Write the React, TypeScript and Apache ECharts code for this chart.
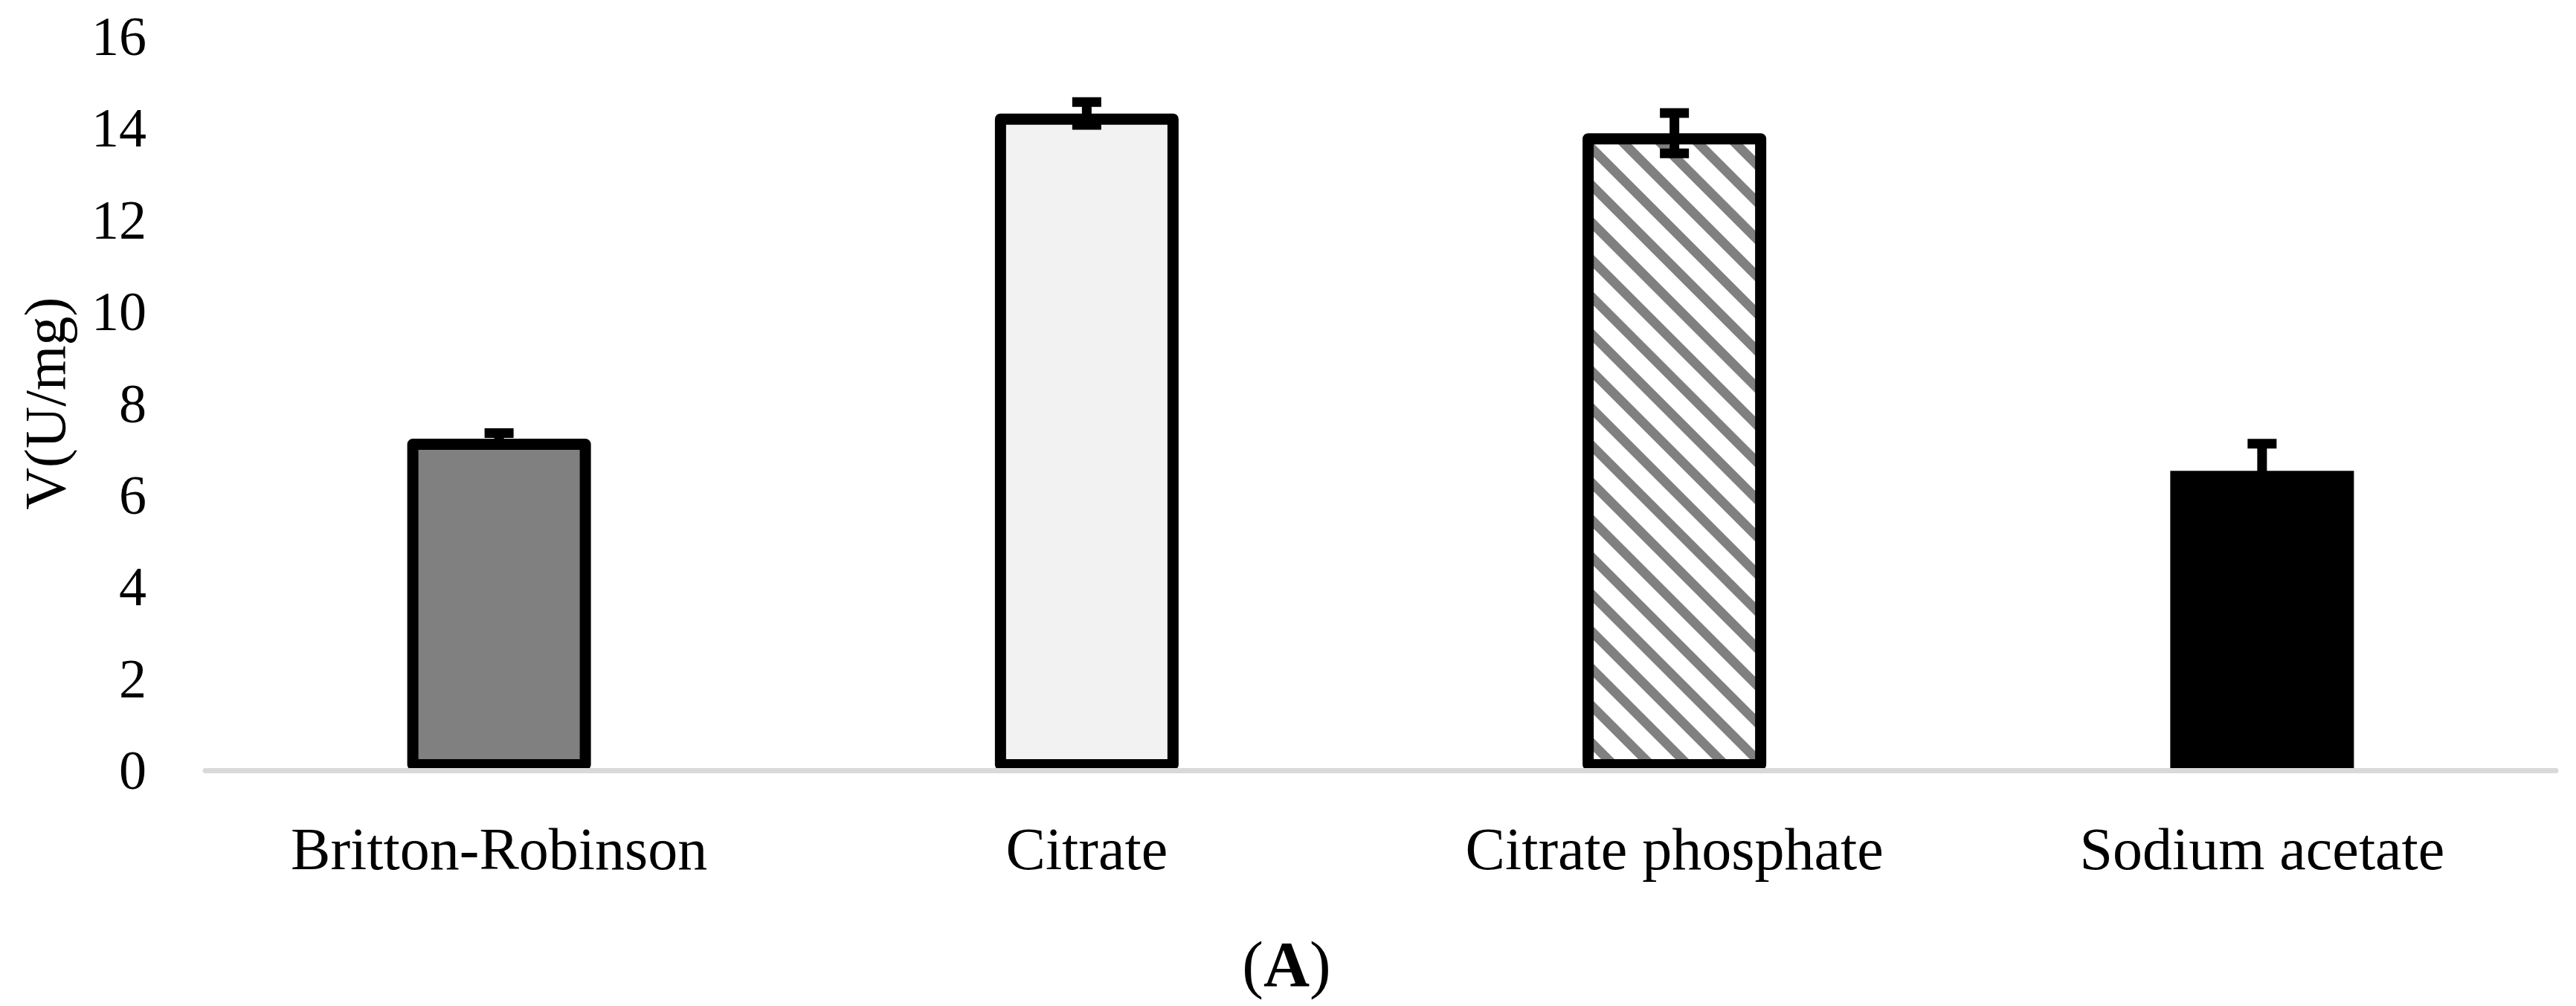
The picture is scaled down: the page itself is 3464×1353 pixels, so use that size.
import React, { useEffect, useRef } from 'react';
import * as echarts from 'echarts';

// buffer systems on the x axis
const buffers = ['Britton-Robinson', 'Citrate', 'Citrate phosphate', 'Sodium acetate'];
// V (U/mg)
const activity = [7.23, 14.32, 13.89, 6.53];
// error bar half-lengths
const activityError = [0.12, 0.25, 0.44, 0.59];
// y axis ticks
const yMin = 0;
const yMax = 16;
const yStep = 2;

const FONT = '"Liberation Serif", "Times New Roman", serif';

// grey diagonal stripes for the citrate phosphate bar
function makeHatch() {
  const size = 50;
  const band = 18;
  const c = document.createElement('canvas');
  c.width = size;
  c.height = size;
  const ctx = c.getContext('2d')!;
  ctx.fillStyle = '#ffffff';
  ctx.fillRect(0, 0, size, size);
  ctx.fillStyle = '#808080';
  for (const k of [-size, 0, size]) {
    ctx.beginPath();
    ctx.moveTo(0, k);
    ctx.lineTo(size, k + size);
    ctx.lineTo(size, k + size + band);
    ctx.lineTo(0, k + band);
    ctx.closePath();
    ctx.fill();
  }
  return c;
}

const BufferChart: React.FC = () => {
  const chartRef = useRef<HTMLDivElement>(null);

  useEffect(() => {
    const chart = echarts.init(chartRef.current!, null, { renderer: 'svg' });

    const border = { borderColor: '#000', borderWidth: 15, borderJoin: 'round' };
    const fills: any[] = [
      { color: '#808080', ...border },
      { color: '#f2f2f2', ...border },
      { color: { image: makeHatch(), repeat: 'repeat' }, ...border },
      { color: '#000000', borderWidth: 0 },
    ];

    const option = {
      animation: false,
      grid: { left: 276, right: 27, top: 49, bottom: 317 },
      xAxis: {
        type: 'category',
        data: buffers,
        z: 3,
        axisTick: { show: false },
        axisLine: { lineStyle: { color: '#d9d9d9', width: 7 } },
        axisLabel: { color: '#000', fontSize: 80, fontFamily: FONT, margin: 66 },
      },
      yAxis: {
        type: 'value',
        min: yMin,
        max: yMax,
        interval: yStep,
        name: 'V(U/mg)',
        nameLocation: 'middle',
        nameGap: 177,
        nameTextStyle: { color: '#000', fontSize: 78, fontFamily: FONT },
        axisLine: { show: false },
        axisTick: { show: false },
        splitLine: { show: false },
        axisLabel: { color: '#000', fontSize: 74, fontFamily: FONT, margin: 79 },
      },
      graphic: [
        {
          type: 'text',
          x: 1730,
          y: 1297,
          style: {
            text: '({a|A})',
            fill: '#000',
            fontSize: 86,
            fontFamily: FONT,
            align: 'center',
            verticalAlign: 'middle',
            rich: { a: { fontSize: 86, fontWeight: 'bold', fontFamily: FONT, fill: '#000' } },
          },
        },
      ],
      series: [
        {
          type: 'bar',
          barWidth: 247,
          z: 2,
          data: activity.map((v, i) => ({ value: v, itemStyle: fills[i] })),
        },
        {
          type: 'custom',
          z: 4,
          encode: { x: 0, y: 1 },
          data: activity.map((v, i) => [i, v, activityError[i]]),
          renderItem: (params: any, api: any) => {
            const i = api.value(0);
            const v = api.value(1);
            const e = api.value(2);
            const top = api.coord([i, v + e]);
            const bot = api.coord([i, v - e]);
            const half = 19.5;
            const style = { stroke: '#000', lineWidth: 13, fill: null };
            return {
              type: 'group',
              children: [
                { type: 'line', shape: { x1: top[0], y1: top[1], x2: bot[0], y2: bot[1] }, style },
                { type: 'line', shape: { x1: top[0] - half, y1: top[1], x2: top[0] + half, y2: top[1] }, style },
                { type: 'line', shape: { x1: bot[0] - half, y1: bot[1], x2: bot[0] + half, y2: bot[1] }, style },
              ],
            };
          },
        },
      ],
    };

    chart.setOption(option as any);

    const handleResize = () => chart.resize();
    window.addEventListener('resize', handleResize);

    return () => {
      window.removeEventListener('resize', handleResize);
      chart.dispose();
    };
  }, []);

  return (
    <div
      ref={chartRef}
      style={{ position: 'absolute', left: 0, top: 0, width: 3464, height: 1353, background: '#fff' }}
    />
  );
};

export default function App() {
  return <BufferChart />;
}
